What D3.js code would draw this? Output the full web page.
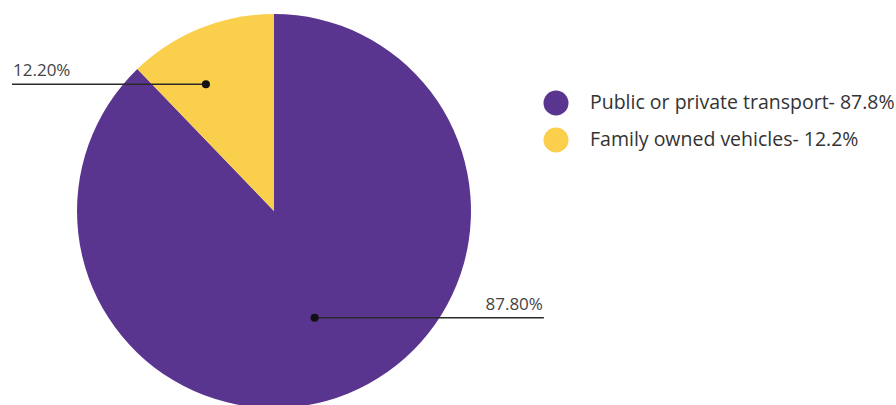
<!DOCTYPE html>
<html>
<head>
<meta charset="utf-8">
<script src="https://cdn.jsdelivr.net/npm/d3@7"></script>
<style>
  html, body { margin: 0; padding: 0; background: #fff; }
  svg { display: block; }
</style>
</head>
<body>
<svg id="chart" width="896" height="405"></svg>
<script>
// Share of travel mode
const categories = ["Public or private transport", "Family owned vehicles"];
const shares = [87.8, 12.2];
const colors = ["#5a3590", "#f9cf4b"];

const W = 896, H = 405;
const cx = 274, cy = 211, R = 197;

const svg = d3.select("#chart");
const g = svg.append("g").attr("transform", `translate(${cx},${cy})`);

const slices = categories.map((c, i) => ({ name: c, value: shares[i], color: colors[i] }));

// Start at 12 o'clock; the larger slice runs clockwise, the smaller one sits to its left
const pie = d3.pie().value(d => d.value).sort(null).startAngle(0).endAngle(2 * Math.PI);
const arcs = pie(slices);

const arc = d3.arc().innerRadius(0).outerRadius(R);

g.selectAll("path.slice")
  .data(arcs)
  .enter().append("path")
  .attr("class", "slice")
  .attr("d", arc)
  .attr("fill", d => d.data.color);

// Leader lines: dot inside slice, horizontal rule out to the side, value above it
const dotRadiusFrac = [0.58, 0.73];
const angleNudge = [0.02, -0.11];
const lineReach = [1.37, 1.33];

arcs.forEach((a, i) => {
  const mid = (a.startAngle + a.endAngle) / 2 + angleNudge[i];
  const rr = R * dotRadiusFrac[i];
  const x = Math.sin(mid) * rr;
  const y = -Math.cos(mid) * rr;
  const side = Math.sin(mid) >= 0 ? 1 : -1;
  const xEnd = side * R * lineReach[i];

  g.append("line")
    .attr("x1", x).attr("y1", y)
    .attr("x2", xEnd).attr("y2", y)
    .attr("stroke", "#2a2a2a")
    .attr("stroke-width", 1.5);

  g.append("circle")
    .attr("cx", x).attr("cy", y).attr("r", 4)
    .attr("fill", "#111");

  g.append("text")
    .attr("x", xEnd + (side > 0 ? -1 : 1))
    .attr("y", y - 8)
    .attr("text-anchor", side > 0 ? "end" : "start")
    .attr("font-family", "'Open Sans', 'Noto Sans', sans-serif")
    .attr("font-size", 17)
    .attr("fill", "#444")
    .text(a.data.value.toFixed(2) + "%");
});

// Legend
const legend = svg.append("g").attr("transform", "translate(556,103)");
const rows = legend.selectAll("g.row")
  .data(slices)
  .enter().append("g")
  .attr("class", "row")
  .attr("transform", (d, i) => `translate(0,${i * 37})`);

rows.append("circle")
  .attr("r", 12.5)
  .attr("fill", d => d.color);

rows.append("text")
  .attr("x", 34)
  .attr("y", 5.5)
  .attr("font-family", "'Open Sans', 'Noto Sans', sans-serif")
  .attr("font-size", 19.5)
  .attr("fill", "#333")
  .text(d => `${d.name}- ${d.value}%`);
</script>
</body>
</html>
